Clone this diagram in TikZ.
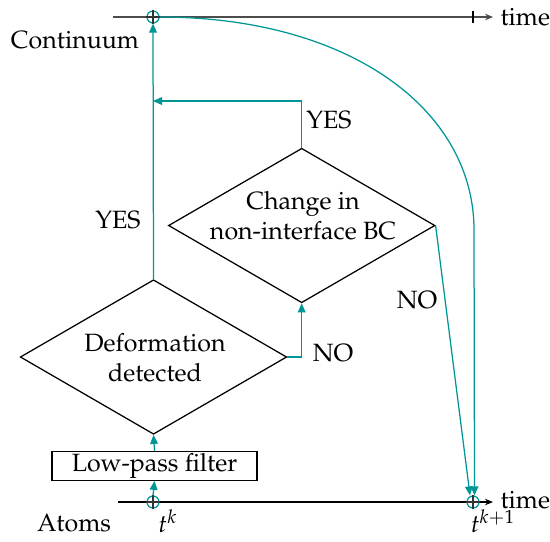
\documentclass[tikz,border=0pt]{standalone}
\usepackage[T1]{fontenc}
\usepackage{mathpazo}
\usetikzlibrary{shapes.geometric,arrows.meta}
\definecolor{flow}{RGB}{0,150,150}
\begin{document}
\begin{tikzpicture}[x=0.4pt,y=-0.4pt,
  decision/.style={draw,diamond,line width=0.5pt,inner sep=0pt,
    minimum width=106.6pt,minimum height=61.8pt},
  filterbox/.style={draw,rectangle,line width=0.5pt,inner sep=0pt,
    minimum width=82pt,minimum height=11.4pt},
  flowarrow/.style={draw=flow,line width=0.5pt,
    -{Triangle[length=3.6pt,width=3.1pt,fill=flow]}},
  axis/.style={line width=0.5pt,-{Stealth[length=3.2pt,width=2.6pt]}},
  oplus/.style={circle,draw=flow,line width=0.5pt,minimum size=4.8pt,inner sep=0pt},
  lbl/.style={inner sep=0pt}]
\useasboundingbox (0,0) rectangle (550,541);

% time axes
\coordinate (ts) at (113,17);
\coordinate (te) at (493,17);
\coordinate (bs) at (118,502);
\coordinate (be) at (493,502);
\coordinate (tick) at (473,17);
\draw[axis,black!70] (ts) -- (te);
\draw[line width=0.5pt] (tick) ++(0,-6) -- ++(0,12);
\draw[axis] (bs) -- (be);

% sampling points
\node[oplus] (c1) at (153,17) {};
\node[oplus] (c0) at (153,502) {};
\node[oplus] (c2) at (473,502) {};
\foreach \c in {c1,c0,c2}
  \draw[line width=0.5pt,black!80] (\c.north) -- (\c.south) (\c.west) -- (\c.east);

% axis labels
\node[lbl,anchor=west] (time1) at (500,17) {time};
\node[lbl,anchor=west] (time2) at (500,500) {time};
\node[lbl] (cont) at (75,40) {Continuum};
\node[lbl] (atoms) at (74,523) {Atoms};
\node[lbl] (tk) at (168,521) {$t^k$};
\node[lbl] (tk1) at (493,521) {$t^{k+1}$};

% flow chart
\node[filterbox] (lp) at (154.5,466) {Low-pass filter};
\node[decision] (def) at (153.5,357) {};
\node[align=center,lbl] (deftext) at (155,358) {Deformation\\detected};
\node[decision] (bc) at (301.7,225.5) {};
\node[align=center,lbl] (bctext) at (303,216) {Change in\\non-interface BC};
\coordinate (join) at (153,101);
\coordinate (bend) at (474,230);

\draw[flowarrow] (c0.north) -- (lp.south);
\draw[flowarrow] (lp.north) -- (def.south);
\draw[flowarrow] (def.east) -| (bc.south);
\draw[flowarrow] (def.north) -- (c1.south);
\draw[flowarrow] (bc.north) |- (join);
\draw[flowarrow] (bc.east) -- ([xshift=-1.2pt]c2.north);
\draw[flowarrow] (c1.east) .. controls (350,17) and (474,110) .. (bend)
  -- ([xshift=0.6pt]c2.north);

% branch labels
\node[lbl] (yes1) at (118,220) {YES};
\node[lbl] (yes2) at (329,120) {YES};
\node[lbl] (no1) at (333,353) {NO};
\node[lbl] (no2) at (417,300) {NO};
\end{tikzpicture}
\end{document}
